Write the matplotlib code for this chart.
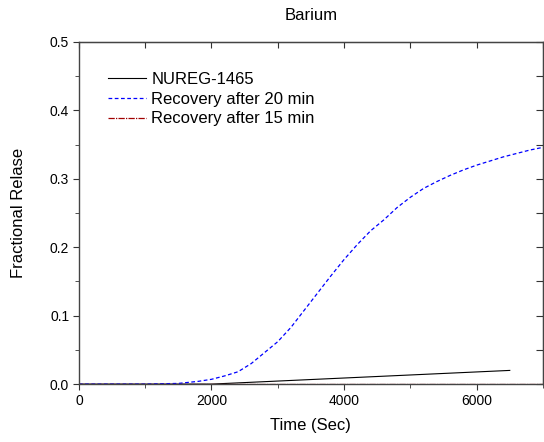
"""Barium fractional release vs time."""

import matplotlib
matplotlib.use('Agg')
import matplotlib.pyplot as plt
from matplotlib.ticker import MultipleLocator

plt.rcParams['font.family'] = ['Liberation Sans', 'DejaVu Sans']

# NUREG-1465 release (linear ramp)
nureg_t = [0, 2000, 6500]
nureg_v = [0.0, 0.0, 0.020]

# Recovery after 20 min
rec20_t = [0, 1000, 1500, 1800, 2000, 2200, 2400, 2600, 2800, 3000, 3200,
           3400, 3600, 3800, 4000, 4200, 4400, 4600, 4800, 5000, 5200,
           5400, 5600, 5800, 6000, 6200, 6400, 6600, 6800, 7000]
rec20_v = [0.0, 0.0, 0.001, 0.004, 0.007, 0.012, 0.018, 0.030, 0.046, 0.062, 0.083,
           0.108, 0.133, 0.158, 0.182, 0.204, 0.224, 0.240, 0.258, 0.273, 0.286,
           0.296, 0.305, 0.313, 0.320, 0.326, 0.332, 0.337, 0.342, 0.346]

# Recovery after 15 min
rec15_t = [0, 7000]
rec15_v = [0.0, 0.0]

fig = plt.figure(figsize=(5.44, 4.42), dpi=100)
ax = fig.add_axes([0.145, 0.131, 0.853, 0.774])

ax.plot(nureg_t, nureg_v, color='black', lw=0.8, label='NUREG-1465')
ax.plot(rec20_t, rec20_v, color='blue', lw=0.9, ls=(0, (3, 2)),
        label='Recovery after 20 min')
ax.plot(rec15_t, rec15_v, color='#a00000', lw=0.9, ls=(0, (5, 1, 1, 1)),
        label='Recovery after 15 min')

ax.set_xlim(0, 7000)
ax.set_ylim(0, 0.5)
ax.xaxis.set_major_locator(MultipleLocator(2000))
ax.xaxis.set_minor_locator(MultipleLocator(1000))
ax.yaxis.set_major_locator(MultipleLocator(0.1))
ax.yaxis.set_minor_locator(MultipleLocator(0.05))
ax.yaxis.set_major_formatter(plt.FormatStrFormatter('%.1f'))

ax.tick_params(which='both', direction='out', labelsize=10, color='#333333',
               top=False, right=False, pad=2.5)
ax.tick_params(which='major', length=4.5)
ax.tick_params(which='minor', length=3)
for sp in ax.spines.values():
    sp.set_color('#444444')
    sp.set_linewidth(1.0)

# top/right ticks point inward
ax2 = ax.secondary_xaxis('top')
ax2.xaxis.set_major_locator(MultipleLocator(1000))
ax2.tick_params(direction='in', length=4, labeltop=False, color='#333333')
ax3 = ax.secondary_yaxis('right')
ax3.yaxis.set_major_locator(MultipleLocator(0.05))
ax3.tick_params(direction='in', length=5, labelright=False, color='#333333')

ax.set_xlabel('Time (Sec)', fontsize=12)
ax.xaxis.set_label_coords(0.5, -0.1)
ax.set_ylabel('Fractional Relase', fontsize=12)
ax.yaxis.set_label_coords(-0.114, 0.5)
ax.set_title('Barium', fontsize=12, pad=16)

ax.legend(loc='upper left', bbox_to_anchor=(0.0625, 0.912), frameon=False,
          borderpad=0, borderaxespad=0, fontsize=12, handlelength=2.3,
          handletextpad=0.3, labelspacing=0.28)

fig.savefig('out.png', dpi=100)
